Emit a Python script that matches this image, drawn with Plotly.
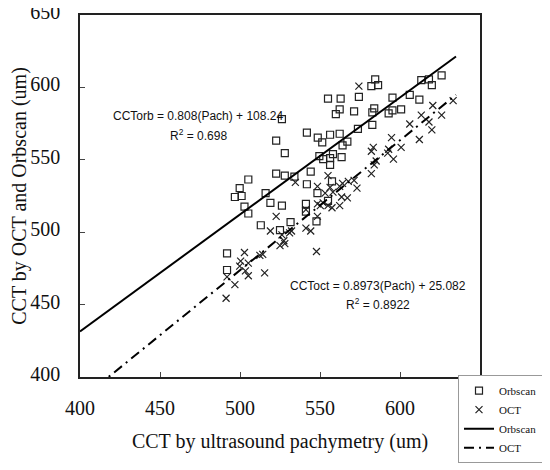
import numpy as np
import plotly.graph_objects as go

# Orbscan measurements (x = ultrasound pachymetry, y = Orbscan CCT)
orb_x = [526.2, 522.6, 528.0, 522.6, 528.0, 505.2, 499.8, 496.8, 501.0, 516.0,
         502.8, 505.2, 519.0, 526.2, 513.0, 531.6, 525.0, 491.9, 491.9, 584.5,
         582.1, 586.3, 555.0, 562.9, 574.3, 562.3, 559.9, 571.3, 583.9, 582.7,
         592.9, 595.3, 595.3, 600.7, 606.1, 612.1, 613.3, 618.1, 619.9, 626.0,
         541.8, 548.6, 551.4, 556.3, 562.3, 573.7, 582.7, 567.1, 564.1, 549.6,
         552.0, 556.3, 558.1, 563.5, 556.3, 544.2, 534.0, 541.8, 557.5, 548.4,
         555.0, 541.2, 541.2, 547.8]
orb_y = [578.1, 563.3, 554.6, 540.5, 539.1, 536.4, 530.4, 524.3, 525.0, 527.0,
         517.6, 512.9, 520.3, 518.3, 504.8, 506.9, 501.5, 485.4, 473.9, 605.6,
         600.9, 601.6, 592.2, 592.2, 593.5, 584.8, 581.5, 583.5, 585.5, 582.8,
         582.1, 592.9, 584.1, 584.8, 594.9, 591.5, 605.0, 605.6, 601.6, 608.3,
         568.7, 565.3, 562.0, 567.3, 568.0, 571.4, 574.1, 562.6, 559.9, 552.6,
         550.5, 551.2, 553.9, 551.9, 546.5, 541.8, 538.4, 533.1, 535.1, 527.0,
         521.6, 519.6, 514.2, 507.5]

# OCT measurements
oct_x = [574.3, 620.5, 633.2, 626.0, 613.3, 618.1, 619.9, 606.1, 612.1, 594.7,
         600.7, 583.3, 582.1, 592.9, 592.3, 595.9, 585.1, 583.9, 582.1, 573.1,
         571.3, 567.7, 564.1, 562.3, 555.0, 548.4, 556.3, 553.2, 558.1, 563.5,
         567.1, 548.4, 552.0, 555.0, 562.3, 557.5, 541.2, 548.4, 541.2, 544.2,
         547.8, 534.6, 532.2, 522.6, 519.0, 526.2, 527.4, 525.0, 528.0, 531.0,
         502.8, 512.4, 514.2, 500.4, 505.2, 499.8, 503.4, 505.2, 515.4, 491.9,
         496.8, 491.3, 550.2]
oct_y = [600.9, 587.5, 590.9, 580.8, 580.8, 576.1, 570.7, 574.7, 564.0, 565.3,
         558.6, 558.6, 555.9, 557.3, 554.6, 550.5, 549.2, 546.5, 540.5, 530.4,
         535.8, 535.1, 533.7, 531.7, 539.1, 531.7, 531.0, 527.0, 527.7, 524.3,
         523.7, 519.6, 520.3, 518.3, 518.3, 516.9, 515.6, 510.9, 502.8, 500.8,
         486.7, 534.4, 500.8, 510.9, 500.8, 498.1, 494.1, 490.7, 492.1, 499.5,
         486.0, 484.0, 484.7, 480.0, 478.6, 476.6, 473.3, 469.9, 471.9, 469.2,
         463.8, 454.4, 518.3]

# Regression lines (from the chart's equations)
orb_slope, orb_intercept = 0.808, 108.24
oct_slope, oct_intercept = 0.8973, 25.082
fit_x_range = [400, 635]

x_ticks = [400, 450, 500, 550, 600, 650]
y_ticks = [400, 450, 500, 550, 600, 650]

fx = np.array(fit_x_range, dtype=float)

fig = go.Figure()
fig.add_trace(go.Scatter(
    x=orb_x, y=orb_y, mode="markers", name="Orbscan",
    marker=dict(symbol="square-open", size=7, color="#222",
                line=dict(width=1.2, color="#222"))))
fig.add_trace(go.Scatter(
    x=oct_x, y=oct_y, mode="markers", name="OCT",
    marker=dict(symbol="x-thin-open", size=7, color="#222",
                line=dict(width=1.2, color="#222"))))
fig.add_trace(go.Scatter(
    x=fx, y=orb_slope * fx + orb_intercept, mode="lines", name="Orbscan",
    line=dict(color="black", width=2)))
fig.add_trace(go.Scatter(
    x=fx, y=oct_slope * fx + oct_intercept, mode="lines", name="OCT",
    line=dict(color="black", width=2, dash="10px,5px,2px,5px")))

ann_font = dict(family="Liberation Sans Narrow, Arial Narrow, sans-serif",
                size=12, color="#111")
fig.add_annotation(x=474, y=580, text="CCTorb = 0.808(Pach) + 108.24",
                   showarrow=False, font=ann_font)
fig.add_annotation(x=474, y=567.3, text="R<sup>2</sup> = 0.698",
                   showarrow=False, font=ann_font)
fig.add_annotation(x=586, y=463, text="CCToct = 0.8973(Pach) + 25.082",
                   showarrow=False, font=ann_font)
fig.add_annotation(x=586, y=450.4, text="R<sup>2</sup> = 0.8922",
                   showarrow=False, font=ann_font)

serif = "Liberation Serif, Times New Roman, serif"
# the page body adds an 8px offset; size and margins compensate for it
fig.update_layout(
    width=542, height=462,
    margin=dict(l=72, r=54, t=7, b=88),
    paper_bgcolor="white", plot_bgcolor="white",
    font=dict(family=serif, color="#111"),
    showlegend=True,
    legend=dict(x=0.945, y=0.005, xanchor="left", yanchor="top",
                bgcolor="white", bordercolor="#999", borderwidth=1,
                font=dict(family=serif, size=11, color="#111"),
                itemwidth=30, tracegroupgap=0),
    xaxis=dict(range=[400, 650], tickvals=x_ticks, ticks="inside", ticklen=5,
               tickcolor="#444", showgrid=False, zeroline=False,
               showline=True, linecolor="#222", linewidth=1.5, mirror=True,
               tickfont=dict(size=20, family=serif), automargin=False,
               ticklabelstandoff=12, ticklabeloverflow="allow",
               title=dict(text="CCT by ultrasound pachymetry (um)",
                          font=dict(size=20, family=serif), standoff=16)),
    yaxis=dict(range=[400, 650], tickvals=y_ticks, ticks="inside", ticklen=5,
               tickcolor="#444", showgrid=False, zeroline=False,
               showline=True, linecolor="#222", linewidth=1.5, mirror=True,
               tickfont=dict(size=20, family=serif), automargin=False,
               ticklabelstandoff=14, ticklabelshift=-3,
               ticklabeloverflow="allow",
               title=dict(text="CCT by OCT and Orbscan (um)",
                          font=dict(size=20, family=serif), standoff=3)),
)

fig.write_html("out.html")
